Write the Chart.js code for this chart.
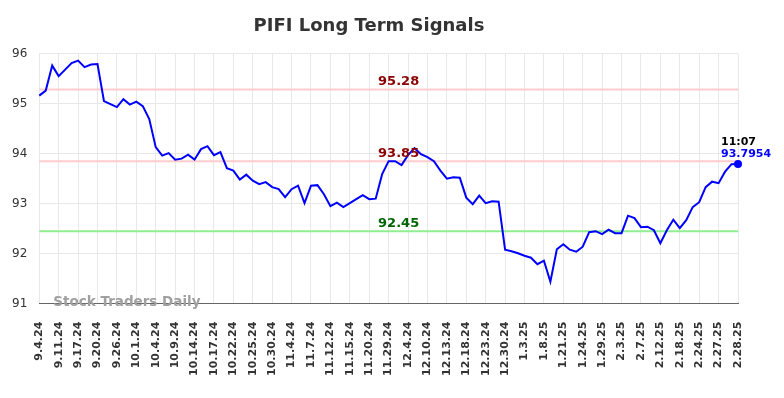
<!DOCTYPE html>
<html>
<head>
<meta charset="utf-8">
<script src="https://cdn.jsdelivr.net/npm/chart.js@4/dist/chart.umd.min.js"></script>
<style>
  html, body { margin: 0; padding: 0; background: #fff; }
  #wrap { width: 784px; height: 398px; }
</style>
</head>
<body>
<div id="wrap"><canvas id="myChart" width="784" height="398"></canvas></div>
<script>
// tick labels, one every third point
var tickLabels = ['9.4.24', '9.11.24', '9.17.24', '9.20.24', '9.26.24', '10.1.24', '10.4.24', '10.9.24',
  '10.14.24', '10.17.24', '10.22.24', '10.25.24', '10.30.24', '11.4.24', '11.7.24', '11.12.24',
  '11.15.24', '11.20.24', '11.29.24', '12.4.24', '12.10.24', '12.13.24', '12.18.24', '12.23.24',
  '12.30.24', '1.3.25', '1.8.25', '1.21.25', '1.24.25', '1.29.25', '2.3.25', '2.7.25', '2.12.25',
  '2.18.25', '2.24.25', '2.27.25', '2.28.25'];

var prices = [95.16, 95.26, 95.76, 95.55, 95.68, 95.81, 95.86, 95.73, 95.78, 95.79,
  95.05, 94.99, 94.93, 95.09, 94.98, 95.04, 94.95, 94.69, 94.13, 93.96,
  94.01, 93.88, 93.90, 93.98, 93.88, 94.09, 94.15, 93.97, 94.03, 93.71,
  93.66, 93.48, 93.58, 93.46, 93.39, 93.43, 93.33, 93.29, 93.13, 93.29,
  93.36, 93.01, 93.36, 93.37, 93.19, 92.95, 93.02, 92.93, 93.01, 93.09,
  93.17, 93.09, 93.10, 93.59, 93.85, 93.85, 93.77, 93.97, 94.11, 93.99,
  93.93, 93.85, 93.66, 93.50, 93.53, 93.52, 93.12, 92.99, 93.16, 93.01,
  93.05, 93.04, 92.08, 92.05, 92.01, 91.96, 91.92, 91.79, 91.86, 91.44,
  92.09, 92.19, 92.08, 92.04, 92.14, 92.43, 92.45, 92.39, 92.48, 92.41,
  92.41, 92.76, 92.71, 92.53, 92.54, 92.47, 92.21, 92.47, 92.68, 92.51,
  92.67, 92.93, 93.03, 93.33, 93.44, 93.41, 93.64, 93.79, 93.7954];

var upperLevels = [95.28, 93.85];
var lowerLevels = [92.45];
var lastTime = '11:07';
var lastPrice = '93.7954';

var labels = prices.map(function (p, i) { return i % 3 === 0 ? tickLabels[i / 3] : ''; });

var FONT = "'DejaVu Sans', sans-serif";

var levelsPlugin = {
  id: 'levels',
  beforeDatasetsDraw: function (chart) {
    var ctx = chart.ctx, area = chart.chartArea, y = chart.scales.y;
    var lines = upperLevels.map(function (v) { return { v: v, line: '#ffcccc' }; })
      .concat(lowerLevels.map(function (v) { return { v: v, line: '#90ee90' }; }));
    ctx.save();
    lines.forEach(function (l) {
      var py = y.getPixelForValue(l.v);
      ctx.strokeStyle = l.line;
      ctx.lineWidth = 2;
      ctx.beginPath();
      ctx.moveTo(area.left, py);
      ctx.lineTo(area.right, py);
      ctx.stroke();
    });
    ctx.restore();
  },
  afterDatasetsDraw: function (chart) {
    var ctx = chart.ctx, area = chart.chartArea, x = chart.scales.x, y = chart.scales.y;
    var lines = upperLevels.map(function (v) { return { v: v, text: '#8b0000' }; })
      .concat(lowerLevels.map(function (v) { return { v: v, text: '#006400' }; }));
    ctx.save();
    ctx.font = 'bold 13px ' + FONT;
    ctx.textAlign = 'center';
    ctx.textBaseline = 'bottom';
    var cx = (area.left + area.right) / 2 + 10;
    lines.forEach(function (l) {
      ctx.fillStyle = l.text;
      ctx.fillText(l.v.toFixed(2), cx, y.getPixelForValue(l.v) - 1);
    });

    // last value
    var li = prices.length - 1;
    var lx = x.getPixelForValue(li), ly = y.getPixelForValue(prices[li]);
    ctx.fillStyle = '#0000ff';
    ctx.beginPath();
    ctx.arc(lx, ly, 4, 0, Math.PI * 2);
    ctx.fill();
    ctx.textAlign = 'left';
    ctx.font = 'bold 11px ' + FONT;
    ctx.fillStyle = '#000';
    ctx.fillText(lastTime, lx - 17, ly - 16);
    ctx.fillStyle = '#0000ff';
    ctx.fillText(lastPrice, lx - 17, ly - 4);

    // watermark
    ctx.font = 'bold 13.5px ' + FONT;
    ctx.fillStyle = '#a0a0a0';
    ctx.textBaseline = 'middle';
    ctx.fillText('Stock Traders Daily', area.left + 14, area.bottom - 1);
    ctx.restore();
  }
};

new Chart(document.getElementById('myChart').getContext('2d'), {
  type: 'line',
  data: {
    labels: labels,
    datasets: [{
      data: prices,
      borderColor: '#0000ff',
      borderWidth: 2,
      pointRadius: 0,
      tension: 0,
      fill: false
    }]
  },
  options: {
    responsive: false,
    animation: false,
    layout: { padding: { left: 0, right: 46, top: 0, bottom: 4 } },
    plugins: {
      legend: { display: false },
      tooltip: { enabled: false },
      title: {
        display: true,
        text: 'PIFI Long Term Signals',
        color: '#333333',
        font: { family: FONT, size: 18, weight: 'bold' },
        padding: { top: 16, bottom: 16 }
      }
    },
    scales: {
      x: {
        offset: false,
        grid: { color: '#e8e8e8', drawTicks: false },
        border: { color: '#666666' },
        ticks: {
          autoSkip: false,
          maxRotation: 90,
          minRotation: 90,
          padding: 18,
          color: '#333333',
          font: { family: FONT, size: 11, weight: 'bold' },
          callback: function (v, i) { return i % 3 === 0 ? tickLabels[i / 3] : null; }
        }
      },
      y: {
        min: 91,
        max: 96,
        grid: { color: '#e8e8e8', drawTicks: false },
        border: { display: false },
        ticks: {
          stepSize: 1,
          padding: 12,
          color: '#333333',
          font: { family: FONT, size: 12 }
        }
      }
    }
  },
  plugins: [levelsPlugin]
});
</script>
</body>
</html>
